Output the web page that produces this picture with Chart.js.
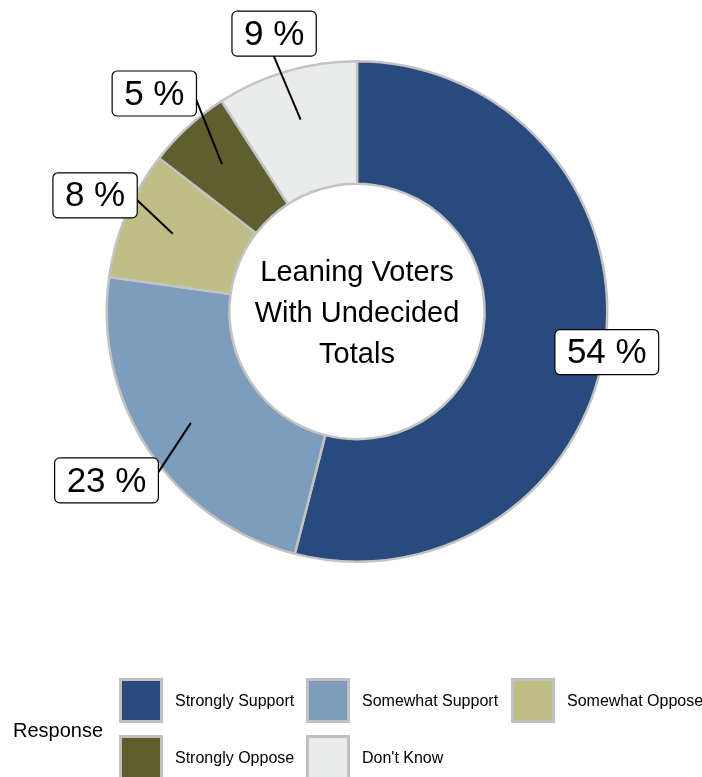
<!DOCTYPE html>
<html>
<head>
<meta charset="utf-8">
<script src="https://cdn.jsdelivr.net/npm/chart.js@4"></script>
<style>
  html, body { margin: 0; padding: 0; background: #fff; }
  #wrap { width: 702px; height: 777px; }
</style>
</head>
<body>
<div id="wrap"><canvas id="chart" width="702" height="777"></canvas></div>
<script>
const responses = ['Strongly Support', 'Somewhat Support', 'Somewhat Oppose', 'Strongly Oppose', "Don't Know"];
const shares = [54.0, 23.2, 8.3, 5.4, 9.1];
const centerTitle = ['Leaning Voters', 'With Undecided', 'Totals'];
const legendTitle = 'Response';

const colors = ['#294a7c', '#7e9dbd', '#bfbe85', '#5e5e2e', '#eaeceb'];
const font = '"Liberation Sans", Arial, sans-serif';

// where each value box sits relative to its anchor in the ring
const labelLayout = [
    { dx: -1, dy: 15, side: 'right' },
    { dx: -33, dy: 50, side: 'left', shift: 7 },
    { dx: -36, dy: -34, side: 'left', shift: -5 },
    { dx: -26, dy: -65, side: 'left', shift: -6 },
    { dx: -27, dy: -64, side: 'top' }
];

const labelPlugin = {
    id: 'valueBoxes',
    afterDatasetsDraw(chart) {
        const ctx = chart.ctx;
        const meta = chart.getDatasetMeta(0);
        ctx.save();
        ctx.font = '35px ' + font;
        meta.data.forEach((arc, i) => {
            const p = arc.getProps(['x', 'y', 'startAngle', 'endAngle', 'innerRadius', 'outerRadius'], true);
            const mid = (p.startAngle + p.endAngle) / 2;
            const r = p.innerRadius + (p.outerRadius - p.innerRadius) * 0.59;
            const ax = p.x + Math.cos(mid) * r;
            const ay = p.y + Math.sin(mid) * r;
            const lay = labelLayout[i];
            const ex = ax + lay.dx;
            const ey = ay + lay.dy;
            const text = Math.round(shares[i]) + ' %';
            const w = ctx.measureText(text).width + 24;
            const h = 45;
            let bx, by;
            if (lay.side === 'top') {
                bx = ex - w / 2; by = ey - h;
            } else if (lay.side === 'left') {
                bx = ex - w; by = ey - h / 2 + (lay.shift || 0);
            } else {
                bx = ex; by = ey - h / 2 + (lay.shift || 0);
            }
            ctx.strokeStyle = '#000';
            if (Math.hypot(lay.dx, lay.dy) > 20) {
                ctx.lineWidth = 2;
                ctx.beginPath();
                ctx.moveTo(ax, ay);
                ctx.lineTo(ex, ey);
                ctx.stroke();
            }
            ctx.beginPath();
            ctx.roundRect(bx + 0.5, by + 0.5, w, h, 5);
            ctx.fillStyle = '#fff';
            ctx.fill();
            ctx.lineWidth = 1.2;
            ctx.stroke();
            ctx.fillStyle = '#000';
            ctx.textAlign = 'center';
            ctx.textBaseline = 'middle';
            ctx.fillText(text, bx + w / 2 + 0.5, by + h / 2 + 2);
        });

        // center caption
        const a = meta.data[0];
        ctx.font = '29px ' + font;
        ctx.textAlign = 'center';
        ctx.textBaseline = 'alphabetic';
        centerTitle.forEach((line, k) => {
            ctx.fillText(line, a.x, a.y - 31 + k * 41);
        });
        ctx.restore();
    },
    afterDraw(chart) {
        const ctx = chart.ctx;
        const ds = chart.data.datasets[0];
        const cols = [119, 306, 511];
        const rows = [678, 735];
        ctx.save();
        ctx.font = '20px ' + font;
        ctx.fillStyle = '#000';
        ctx.textAlign = 'left';
        ctx.textBaseline = 'alphabetic';
        ctx.fillText(legendTitle, 13, 737);
        ctx.font = '16px ' + font;
        chart.data.labels.forEach((lab, i) => {
            const x = cols[i % 3];
            const y = rows[Math.floor(i / 3)];
            ctx.fillStyle = '#c0c0c0';
            ctx.fillRect(x, y, 44, 45);
            ctx.fillStyle = ds.backgroundColor[i];
            ctx.fillRect(x + 3, y + 3, 38, 39);
            ctx.fillStyle = '#000';
            ctx.fillText(lab, x + 56, y + 28);
        });
        ctx.restore();
    }
};

new Chart(document.getElementById('chart'), {
    type: 'doughnut',
    data: {
        labels: responses,
        datasets: [{
            data: shares,
            backgroundColor: colors,
            borderColor: '#c3c3c3',
            borderWidth: 2.5
        }]
    },
    options: {
        responsive: false,
        animation: false,
        cutout: '51%',
        layout: { padding: { left: 105, right: 93, top: 60, bottom: 214 } },
        plugins: {
            legend: { display: false },
            tooltip: { enabled: false }
        }
    },
    plugins: [labelPlugin]
});
</script>
</body>
</html>
